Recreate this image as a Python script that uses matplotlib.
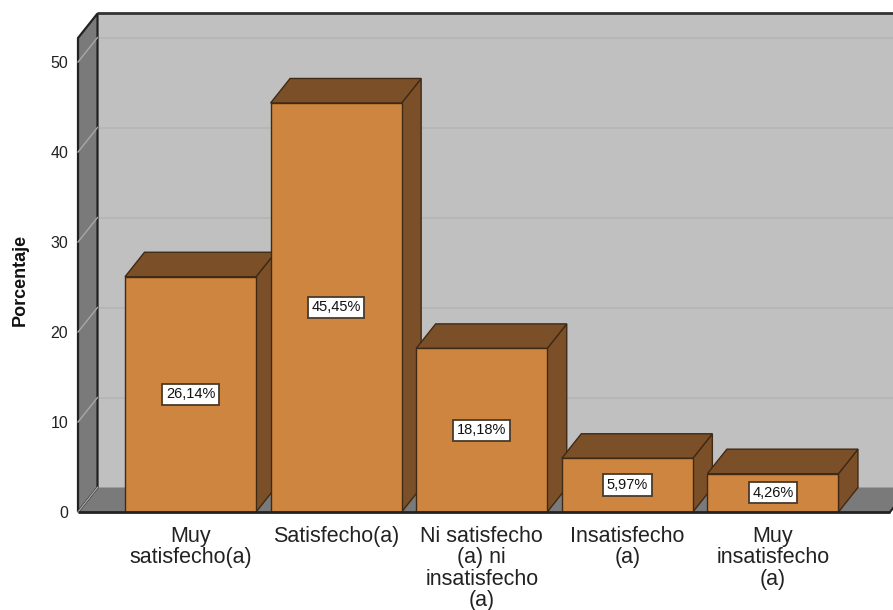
import numpy as np
import matplotlib
matplotlib.use("Agg")
import matplotlib.pyplot as plt
from matplotlib.patches import Polygon, Rectangle

plt.rcParams["font.family"] = ["Liberation Sans", "DejaVu Sans"]

categories = [
    "Muy\nsatisfecho(a)",
    "Satisfecho(a)",
    "Ni satisfecho\n(a) ni\ninsatisfecho\n(a)",
    "Insatisfecho\n(a)",
    "Muy\ninsatisfecho\n(a)",
]
percentages = [26.14, 45.45, 18.18, 5.97, 4.26]
y_ticks = [0, 10, 20, 30, 40, 50]

# colours
FRONT = "#CD853F"
SHADE = "#7B5029"
EDGE = "#3F2A16"
WALL_BACK = "#C0C0C0"
WALL_SIDE = "#7A7A7A"

W, H = 893, 610
fig = plt.figure(figsize=(W / 100, H / 100), dpi=100)
ax_left, ax_bottom, ax_w, ax_h = 78, 98, 812, 474
ax = fig.add_axes([ax_left / W, ax_bottom / H, ax_w / W, ax_h / H])

x = np.arange(len(categories))
xmin, xmax = -0.7727, 4.804
ymin, ymax = 0, 52.67
ax.set_xlim(xmin, xmax)
ax.set_ylim(ymin, ymax)
for s in ax.spines.values():
    s.set_visible(False)
ax.patch.set_visible(False)

# depth offset of the 3-D box, expressed in data units
dx = 19.5 * (xmax - xmin) / ax_w
dy = 24.5 * (ymax - ymin) / ax_h

# back wall
ax.add_patch(Rectangle((xmin + dx, dy), (xmax - xmin) + dx, ymax,
                       fc=WALL_BACK, ec="none", zorder=1, clip_on=False))
ax.plot([xmin + dx, xmax + 2 * dx], [ymax + dy] * 2, color="#333333",
        lw=2, zorder=2, clip_on=False, solid_capstyle="butt")
for t in y_ticks[1:]:
    ax.plot([xmin + dx, xmax + 2 * dx], [t + dy] * 2, color="#B4B4B4",
            lw=1.2, zorder=1.5, clip_on=False)

# floor
ax.add_patch(Polygon([(xmin, 0), (xmax, 0), (xmax + dx, dy), (xmin + dx, dy)],
                     closed=True, fc=WALL_SIDE, ec="none", zorder=2, clip_on=False))
ax.plot([xmax, xmax + dx], [0, dy], color="#222222", lw=1.5, zorder=2.1,
        clip_on=False)

# left wall
ax.add_patch(Polygon([(xmin, 0), (xmin, ymax), (xmin + dx, ymax + dy), (xmin + dx, dy)],
                     closed=True, fc=WALL_SIDE, ec="#222222", lw=1.6, zorder=3,
                     clip_on=False, joinstyle="miter"))
for t in y_ticks:
    ax.plot([xmin, xmin + dx], [t, t + dy], color="#A8A8A8", lw=1.0,
            zorder=3.1, clip_on=False)

# bars
bw = 0.9
for i, (xc, h) in enumerate(zip(x, percentages)):
    z = 10 + i
    xl, xr = xc - bw / 2, xc + bw / 2
    ax.add_patch(Polygon([(xr, 0), (xr + dx, dy), (xr + dx, h + dy), (xr, h)],
                         closed=True, fc=SHADE, ec=EDGE, lw=1.0, zorder=z))
    ax.add_patch(Polygon([(xl, h), (xr, h), (xr + dx, h + dy), (xl + dx, h + dy)],
                         closed=True, fc=SHADE, ec=EDGE, lw=1.0, zorder=z))
    ax.add_patch(Rectangle((xl, 0), bw, h, fc=FRONT, ec=EDGE, lw=1.0, zorder=z))
    label = f"{h:.2f}".replace(".", ",") + "%"
    ax.text(xc, h / 2, label, ha="center", va="center", fontsize=10.5,
            color="#111111", zorder=z + 0.5,
            bbox=dict(boxstyle="square,pad=0.25", fc="white", ec="#4A3A2A", lw=1.3))

# front edge of the floor
ax.plot([xmin, xmax], [0, 0], color="#222222", lw=2, zorder=30, clip_on=False,
        solid_capstyle="butt")

ax.set_yticks(y_ticks)
ax.tick_params(axis="y", length=0, pad=7, labelsize=11.5, labelcolor="#222222")
ax.set_xticks(x, categories)
ax.tick_params(axis="x", length=0, pad=10, labelsize=15.5, labelcolor="#222222")
for lbl in ax.get_xticklabels():
    lbl.set_linespacing(1.03)

fig.text(20 / W, 330 / H, "Porcentaje", rotation=90, ha="center", va="center",
         fontsize=13, fontweight="bold", color="#111111")

fig.savefig("out.png", dpi=100, facecolor="white")
